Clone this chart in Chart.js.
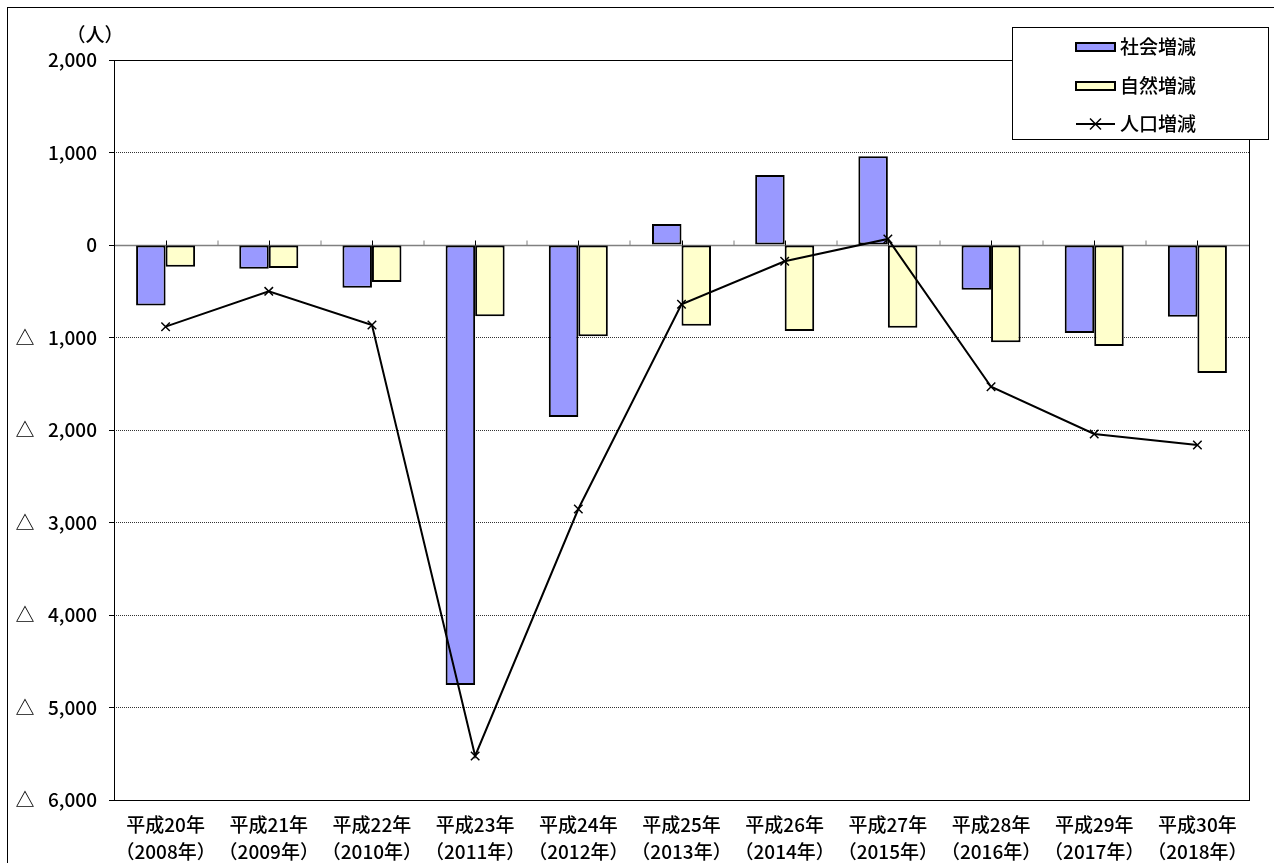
<!DOCTYPE html>
<html lang="ja">
<head>
<meta charset="utf-8">
<title>人口増減の推移</title>
<script src="https://cdn.jsdelivr.net/npm/chart.js@4.4.1/dist/chart.umd.min.js"></script>
<style>
  html, body { margin: 0; padding: 0; background: #fff; }
  #wrap { position: relative; width: 1274px; height: 863px; }
</style>
</head>
<body>
<div id="wrap"><canvas id="chart"></canvas></div>
<script>
const years = [
  ["平成20年", "（2008年）"], ["平成21年", "（2009年）"], ["平成22年", "（2010年）"],
  ["平成23年", "（2011年）"], ["平成24年", "（2012年）"], ["平成25年", "（2013年）"],
  ["平成26年", "（2014年）"], ["平成27年", "（2015年）"], ["平成28年", "（2016年）"],
  ["平成29年", "（2017年）"], ["平成30年", "（2018年）"]
];
const socialChange = [-655, -256, -462, -4757, -1860, 227, 757, 959, -483, -951, -775];
const naturalChange = [-234, -249, -400, -771, -987, -872, -930, -894, -1052, -1092, -1384];
const populationChange = [-883, -501, -865, -5524, -2854, -641, -176, 65, -1532, -2043, -2162];
const seriesNames = ["社会増減", "自然増減", "人口増減"];
const yMin = -6000;
const yMax = 2000;
const yStep = 1000;
const unitLabel = "（人）";

const FONT = "'Noto Sans CJK JP', 'Noto Sans', sans-serif";
const WEIGHT = "500";
const socialColor = "#9999ff";
const naturalColor = "#ffffcc";

Chart.defaults.font.family = FONT;
Chart.defaults.font.weight = WEIGHT;
Chart.defaults.color = "#000";

const fmt = v => Math.abs(v).toLocaleString("en-US");

function drawCross(ctx, x, y, r) {
  ctx.beginPath();
  ctx.moveTo(x - r, y - r); ctx.lineTo(x + r, y + r);
  ctx.moveTo(x + r, y - r); ctx.lineTo(x - r, y + r);
  ctx.stroke();
}

const framePlugin = {
  id: "frame",
  beforeDatasetsDraw(chart) {
    const { ctx, chartArea: a, scales: { x, y } } = chart;
    const zero = Math.round(y.getPixelForValue(0)) + 0.5;
    ctx.save();
    // zero line
    ctx.strokeStyle = "#808080";
    ctx.lineWidth = 1.5;
    ctx.beginPath(); ctx.moveTo(a.left, zero); ctx.lineTo(a.right, zero); ctx.stroke();
    // small ticks on the zero line
    const half = (x.getPixelForValue(1) - x.getPixelForValue(0)) / 2;
    ctx.lineWidth = 1;
    years.forEach((_, i) => {
      const cx = Math.round(x.getPixelForValue(i)) + 0.5;
      ctx.strokeStyle = "#000";
      ctx.beginPath(); ctx.moveTo(cx, zero); ctx.lineTo(cx, zero - 5); ctx.stroke();
      if (i < years.length - 1) {
        const bx = Math.round(cx + half);
        ctx.strokeStyle = "#808080";
        ctx.beginPath(); ctx.moveTo(bx, zero); ctx.lineTo(bx, zero - 5); ctx.stroke();
      }
    });
    // plot frame
    ctx.strokeStyle = "#000";
    ctx.lineWidth = 1;
    ctx.strokeRect(Math.round(a.left) + 0.5, Math.round(a.top) + 0.5,
      Math.round(a.right - a.left), Math.round(a.bottom - a.top));
    ctx.restore();
  },
  afterDraw(chart) {
    const { ctx, scales: { y } } = chart;
    ctx.save();
    // outer border
    ctx.strokeStyle = "#000";
    ctx.lineWidth = 1;
    ctx.strokeRect(7.5, 7.5, 1280, 880);

    ctx.font = `${WEIGHT} 19px ${FONT}`;
    ctx.fillStyle = "#000";
    ctx.textBaseline = "middle";
    // unit
    ctx.textAlign = "center";
    ctx.fillText(unitLabel, 95, 35);
    // triangle marks for negative values
    y.ticks.forEach(t => {
      if (t.value < 0) ctx.fillText("△", 25, y.getPixelForValue(t.value));
    });

    // legend
    ctx.fillStyle = "#fff";
    ctx.fillRect(1012, 27, 256, 112);
    ctx.strokeRect(1012.5, 27.5, 256, 112);
    const rows = [47, 86, 124];
    ctx.textAlign = "left";
    [socialColor, naturalColor].forEach((c, i) => {
      ctx.fillStyle = c;
      ctx.fillRect(1076, rows[i] - 4, 39, 8);
      ctx.lineWidth = 2;
      ctx.strokeRect(1076, rows[i] - 4, 39, 8);
    });
    ctx.lineWidth = 2;
    ctx.beginPath(); ctx.moveTo(1076, rows[2]); ctx.lineTo(1115, rows[2]); ctx.stroke();
    ctx.lineWidth = 1.5;
    drawCross(ctx, 1095.5, rows[2], 5.5);
    ctx.fillStyle = "#000";
    seriesNames.forEach((n, i) => ctx.fillText(n, 1120, rows[i]));
    ctx.restore();
  }
};

new Chart(document.getElementById("chart"), {
  type: "bar",
  data: {
    labels: years,
    datasets: [
      { label: seriesNames[0], data: socialChange, backgroundColor: socialColor, borderColor: "#000",
        borderWidth: 2, borderSkipped: false, categoryPercentage: 0.572, barPercentage: 1, order: 1 },
      { label: seriesNames[1], data: naturalChange, backgroundColor: naturalColor, borderColor: "#000",
        borderWidth: 2, borderSkipped: false, categoryPercentage: 0.572, barPercentage: 1, order: 1 },
      { type: "line", label: seriesNames[2], data: populationChange, borderColor: "#000", borderWidth: 2,
        tension: 0, fill: false, pointStyle: "crossRot", pointRadius: 6, pointBorderColor: "#000",
        pointBorderWidth: 1.5, order: 0 }
    ]
  },
  options: {
    responsive: true,
    maintainAspectRatio: false,
    animation: false,
    layout: { padding: { top: 60, right: 25, left: 0, bottom: 0 } },
    plugins: { legend: { display: false }, tooltip: { enabled: false } },
    scales: {
      x: {
        grid: { display: false, drawTicks: false },
        border: { display: false },
        ticks: { font: { size: 19, lineHeight: 1.38 }, color: "#000", padding: 12, maxRotation: 0, autoSkip: false },
        afterFit: s => { s.height = 63; }
      },
      y: {
        min: yMin,
        max: yMax,
        ticks: { stepSize: yStep, font: { size: 19 }, color: "#000", padding: 12, callback: v => fmt(v) },
        grid: {
          color: c => (c.tick && (c.tick.value === 0 || c.tick.value === yMax || c.tick.value === yMin)) ? "rgba(0,0,0,0)" : "#333",
          tickColor: "#000",
          lineWidth: 1,
          tickLength: 5
        },
        border: { display: false, dash: [1, 1] },
        afterFit: s => { s.width = 114; }
      }
    }
  },
  plugins: [framePlugin]
});
</script>
</body>
</html>
